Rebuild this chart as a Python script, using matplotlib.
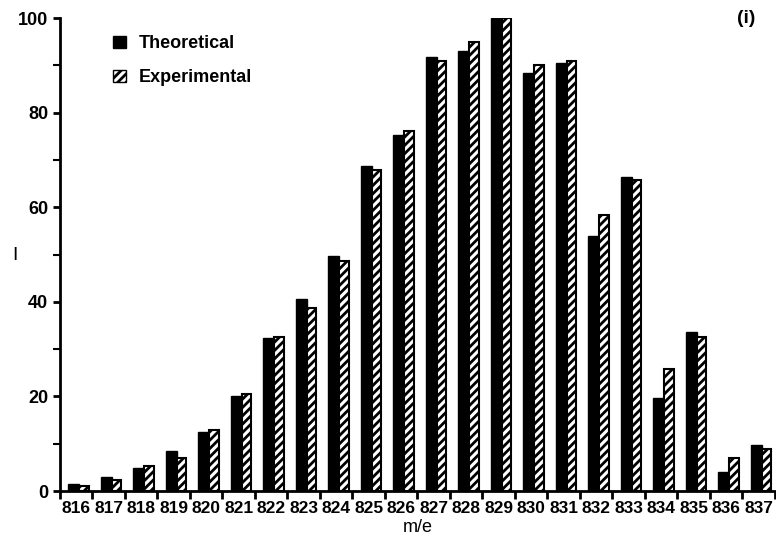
import numpy as np
import matplotlib
matplotlib.use("Agg")
from matplotlib import pyplot
from matplotlib.patches import Patch
from matplotlib.ticker import MultipleLocator, FixedLocator

masses = [816, 817, 818, 819, 820, 821, 822, 823, 824, 825, 826,
          827, 828, 829, 830, 831, 832, 833, 834, 835, 836, 837]
theoretical = [1.4, 3.0, 4.9, 8.5, 12.5, 20.0, 32.3, 40.6, 49.7, 68.8, 75.2,
               91.8, 93.0, 100.0, 88.4, 90.5, 54.0, 66.3, 19.7, 33.6, 4.1, 9.7]
experimental = [1.0, 2.4, 5.3, 7.0, 12.9, 20.5, 32.6, 38.7, 48.6, 67.8, 76.2,
                90.9, 95.0, 100.0, 90.1, 91.0, 58.3, 65.8, 25.8, 32.6, 7.0, 8.8]

pyplot.rcParams['font.family'] = ['Liberation Sans', 'DejaVu Sans']
pyplot.rcParams['font.weight'] = 'bold'
pyplot.rcParams['hatch.linewidth'] = 2.0

fig = pyplot.figure(figsize=(7.76, 5.44), dpi=100)
ax = fig.add_axes([0.0773, 0.0974, 0.9214, 0.8695])

x = np.arange(len(masses))
ax.bar(x + 0.25, theoretical, width=0.35, align='edge', color='black',
       edgecolor='black', linewidth=1)
ax.bar(x + 0.60, experimental, width=0.29, align='edge', color='white',
       edgecolor='black', hatch='////', linewidth=1.5)

ax.set_xlim(0, len(masses))
ax.set_ylim(0, 100)
ax.spines['top'].set_visible(False)
ax.spines['right'].set_visible(False)
ax.spines['left'].set_linewidth(2)
ax.spines['bottom'].set_linewidth(2)

ax.xaxis.set_major_locator(FixedLocator(x + 0.5))
ax.xaxis.set_minor_locator(FixedLocator(np.arange(len(masses) + 1)))
ax.set_xticklabels([str(m) for m in masses])
ax.tick_params(axis='x', which='major', length=0, pad=7, labelsize=12.5)
ax.tick_params(axis='x', which='minor', length=6, width=2, direction='out')

ax.yaxis.set_major_locator(MultipleLocator(20))
ax.yaxis.set_minor_locator(MultipleLocator(10))
ax.tick_params(axis='y', which='major', length=5, width=2, labelsize=13)
ax.tick_params(axis='y', which='minor', length=5, width=1.5)

ax.set_xlabel('m/e', fontsize=13, labelpad=2)
ax.set_ylabel('I', fontsize=14, rotation=0)
ax.yaxis.set_label_coords(-0.063, 0.48)

handles = [Patch(facecolor='black', edgecolor='black', label='Theoretical'),
           Patch(facecolor='white', edgecolor='black', hatch='////',
                 label='Experimental')]
ax.legend(handles=handles, loc='upper left', bbox_to_anchor=(0.052, 0.998),
          frameon=False, fontsize=13, handlelength=0.7, handleheight=0.7,
          handletextpad=0.7, labelspacing=0.95)

ax.text(0.96, 1.0, '(i)', transform=ax.transAxes, fontsize=14,
        ha='center', va='center')

fig.savefig("out.png", dpi=100)
